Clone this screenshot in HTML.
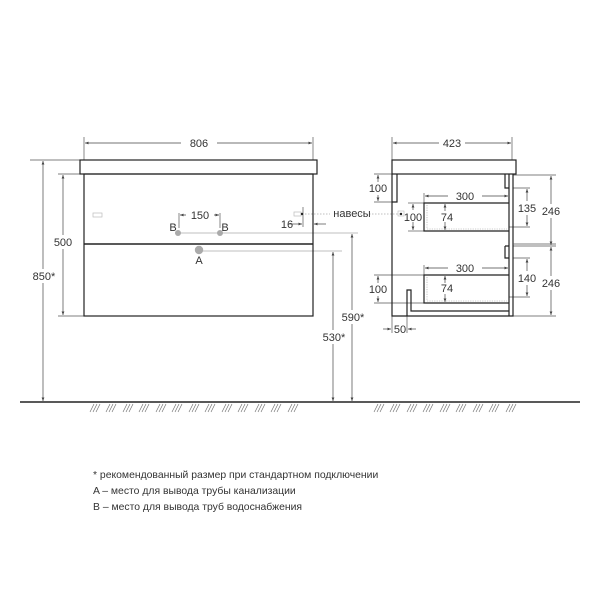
<!DOCTYPE html>
<html><head><meta charset="utf-8"><style>
html,body{margin:0;padding:0;background:#fff;}
svg{display:block;}
text{font-family:"Liberation Sans",sans-serif;fill:#333;}
</style></head><body>
<svg width="600" height="600" viewBox="0 0 600 600" xmlns="http://www.w3.org/2000/svg">
<defs>
<marker id="a" markerWidth="6" markerHeight="6" refX="5" refY="3" orient="auto"><path d="M0,1 L5,3 L0,5 z" fill="#444"/></marker>
<marker id="b" markerWidth="6" markerHeight="6" refX="1" refY="3" orient="auto"><path d="M6,1 L1,3 L6,5 z" fill="#444"/></marker>
</defs>
<g stroke="#555" stroke-width="0.7" fill="none">
<line x1="84" y1="137" x2="84" y2="160"/><line x1="313" y1="137" x2="313" y2="160"/>
<line x1="30" y1="160" x2="80" y2="160"/><line x1="58" y1="174" x2="84" y2="174"/><line x1="58" y1="316" x2="84" y2="316"/>
<line x1="175" y1="233" x2="358" y2="233" stroke="#aaa"/>
<line x1="200" y1="251" x2="342" y2="251" stroke="#aaa"/>
<line x1="179" y1="213" x2="179" y2="228"/><line x1="220" y1="213" x2="220" y2="228"/>
<line x1="303" y1="207" x2="303" y2="227"/>
<line x1="305" y1="214" x2="330" y2="214" stroke="#aaa" stroke-dasharray="1.5,1.5"/>
<line x1="392" y1="137" x2="392" y2="160"/><line x1="512" y1="137" x2="512" y2="160"/>
<line x1="513" y1="175" x2="556" y2="175"/><line x1="513" y1="246" x2="556" y2="246"/><line x1="513" y1="316" x2="556" y2="316"/>
<line x1="513" y1="188" x2="530" y2="188"/><line x1="509" y1="227" x2="530" y2="227"/>
<line x1="513" y1="258" x2="530" y2="258"/><line x1="509" y1="297" x2="530" y2="297"/>
<line x1="374" y1="174" x2="392" y2="174"/><line x1="374" y1="202" x2="397" y2="202"/>
<line x1="374" y1="275" x2="424" y2="275"/><line x1="374" y1="303" x2="424" y2="303"/>
<line x1="408" y1="203" x2="424" y2="203"/><line x1="408" y1="231" x2="424" y2="231"/>
<line x1="424" y1="193" x2="424" y2="203"/><line x1="424" y1="265" x2="424" y2="275"/>
<line x1="407" y1="316" x2="407" y2="333"/><line x1="392" y1="316" x2="392" y2="333"/>
<line x1="360" y1="214" x2="400" y2="214" stroke="#aaa" stroke-dasharray="1.5,1.5"/>
</g>
<g stroke="#444" stroke-width="0.7" fill="none" marker-start="url(#b)" marker-end="url(#a)">
<line x1="85" y1="143" x2="312" y2="143"/>
<line x1="43" y1="161" x2="43" y2="401"/>
<line x1="63" y1="175" x2="63" y2="315"/>
<line x1="180" y1="215" x2="219" y2="215"/>
<line x1="352" y1="234" x2="352" y2="401"/>
<line x1="333" y1="252" x2="333" y2="401"/>
<line x1="393" y1="143" x2="511" y2="143"/>
<line x1="551" y1="176" x2="551" y2="245"/>
<line x1="551" y1="247" x2="551" y2="315"/>
<line x1="527" y1="189" x2="527" y2="226"/>
<line x1="527" y1="259" x2="527" y2="296"/>
<line x1="378" y1="175" x2="378" y2="201"/>
<line x1="378" y1="276" x2="378" y2="302"/>
<line x1="413" y1="204" x2="413" y2="230"/>
<line x1="425" y1="196" x2="508" y2="196"/>
<line x1="425" y1="268" x2="508" y2="268"/>
<line x1="445" y1="204" x2="445" y2="230"/>
<line x1="445" y1="276" x2="445" y2="302"/>
</g>
<line x1="288" y1="224" x2="302" y2="224" stroke="#444" stroke-width="0.7" marker-end="url(#a)"/>
<line x1="326" y1="224" x2="314" y2="224" stroke="#444" stroke-width="0.7" marker-end="url(#a)"/>
<line x1="383" y1="329" x2="391" y2="329" stroke="#444" stroke-width="0.7" marker-end="url(#a)"/>
<line x1="416" y1="329" x2="408" y2="329" stroke="#444" stroke-width="0.7" marker-end="url(#a)"/>
<g fill="#fff">
<rect x="181" y="136" width="36" height="13"/><rect x="29" y="269" width="30" height="14"/>
<rect x="50" y="235" width="26" height="14"/><rect x="186" y="209" width="28" height="12"/>
<rect x="338" y="310" width="30" height="14"/><rect x="319" y="330" width="30" height="14"/>
<rect x="439" y="136" width="26" height="13"/><rect x="538" y="204" width="26" height="14"/>
<rect x="538" y="276" width="26" height="14"/><rect x="514" y="201" width="26" height="14"/>
<rect x="514" y="271" width="26" height="14"/><rect x="365" y="182" width="26" height="13"/>
<rect x="365" y="283" width="26" height="13"/><rect x="448" y="190" width="34" height="12"/>
<rect x="448" y="262" width="34" height="12"/><rect x="400" y="210" width="26" height="12"/>
<rect x="439" y="211" width="16" height="11"/><rect x="439" y="283" width="16" height="11"/>
</g>
<g stroke="#222" fill="none">
<rect x="80" y="160" width="237" height="14" stroke-width="1.2"/>
<rect x="84" y="174" width="229" height="142" stroke-width="1.2"/>
<line x1="84" y1="244" x2="313" y2="244" stroke-width="1.6"/>
</g>
<rect x="93" y="213" width="9" height="4" fill="none" stroke="#bbb" stroke-width="0.7"/>
<rect x="294" y="212" width="7" height="4" fill="none" stroke="#bbb" stroke-width="0.7"/>
<circle cx="302" cy="214" r="1.2" fill="#222"/>
<circle cx="178" cy="233" r="3" fill="#aaa"/><circle cx="220" cy="233" r="3" fill="#aaa"/>
<circle cx="199" cy="250" r="4.2" fill="#aaa"/>
<g stroke="#222" fill="none" stroke-width="1.2">
<rect x="392" y="160" width="124" height="14"/>
<path d="M392,174 V316 H513 V174"/>
<line x1="509" y1="174" x2="509" y2="316"/>
<path d="M392,202 H397 V174"/>
<path d="M505,174 V188 H509"/>
<path d="M505,246 V258 H509 M505,246 H509"/>
<path d="M509,203 H424 V231 H509"/>
<path d="M509,275 H424 V303 H509"/>
<path d="M407,316 V290 H411 V311 H509"/>
</g>
<g stroke="#999" stroke-width="0.6" fill="none" stroke-dasharray="1.2,1.2">
<path d="M427,205 V229 H507"/><path d="M427,277 V301 H507"/>
</g>
<rect x="398" y="211" width="6" height="5" fill="none" stroke="#bbb" stroke-width="0.6"/>
<circle cx="401" cy="214" r="1.2" fill="#222"/>
<line x1="513" y1="244" x2="556" y2="244" stroke="#555" stroke-width="0.7"/>
<line x1="20" y1="402" x2="580" y2="402" stroke="#222" stroke-width="1.6"/>
<g stroke="#777" stroke-width="0.7">
<path d="M90,412 l4,-8 M93,412 l4,-8 M96,412 l4,-8 M106,412 l4,-8 M109,412 l4,-8 M112,412 l4,-8 M123,412 l4,-8 M126,412 l4,-8 M129,412 l4,-8 M139,412 l4,-8 M142,412 l4,-8 M145,412 l4,-8 M156,412 l4,-8 M159,412 l4,-8 M162,412 l4,-8 M172,412 l4,-8 M175,412 l4,-8 M178,412 l4,-8 M189,412 l4,-8 M192,412 l4,-8 M195,412 l4,-8 M205,412 l4,-8 M208,412 l4,-8 M211,412 l4,-8 M222,412 l4,-8 M225,412 l4,-8 M228,412 l4,-8 M238,412 l4,-8 M241,412 l4,-8 M244,412 l4,-8 M255,412 l4,-8 M258,412 l4,-8 M261,412 l4,-8 M271,412 l4,-8 M274,412 l4,-8 M277,412 l4,-8 M288,412 l4,-8 M291,412 l4,-8 M294,412 l4,-8"/>
<path d="M374,412 l4,-8 M377,412 l4,-8 M380,412 l4,-8 M390,412 l4,-8 M393,412 l4,-8 M396,412 l4,-8 M407,412 l4,-8 M410,412 l4,-8 M413,412 l4,-8 M423,412 l4,-8 M426,412 l4,-8 M429,412 l4,-8 M440,412 l4,-8 M443,412 l4,-8 M446,412 l4,-8 M456,412 l4,-8 M459,412 l4,-8 M462,412 l4,-8 M473,412 l4,-8 M476,412 l4,-8 M479,412 l4,-8 M489,412 l4,-8 M492,412 l4,-8 M495,412 l4,-8 M506,412 l4,-8 M509,412 l4,-8 M512,412 l4,-8"/>
</g>
<g font-size="11" text-anchor="middle">
<text x="199" y="147">806</text><text x="44" y="280">850*</text><text x="63" y="246">500</text>
<text x="200" y="219">150</text><text x="173" y="231">B</text><text x="225" y="231">B</text><text x="199" y="264">A</text>
<text x="287" y="228">16</text><text x="352" y="217">навесы</text>
<text x="353" y="321">590*</text><text x="334" y="341">530*</text>
<text x="452" y="147">423</text><text x="551" y="215">246</text><text x="551" y="287">246</text>
<text x="527" y="212">135</text><text x="527" y="282">140</text>
<text x="378" y="192">100</text><text x="378" y="293">100</text><text x="413" y="221">100</text>
<text x="465" y="200">300</text><text x="465" y="272">300</text>
<text x="447" y="221">74</text><text x="447" y="292">74</text><text x="400" y="333">50</text>
</g>
<g font-size="10.4">
<text x="93" y="478">* рекомендованный размер при стандартном подключении</text>
<text x="93" y="494">A – место для вывода трубы канализации</text>
<text x="93" y="510">B – место для вывода труб водоснабжения</text>
</g>
</svg>
</body></html>
